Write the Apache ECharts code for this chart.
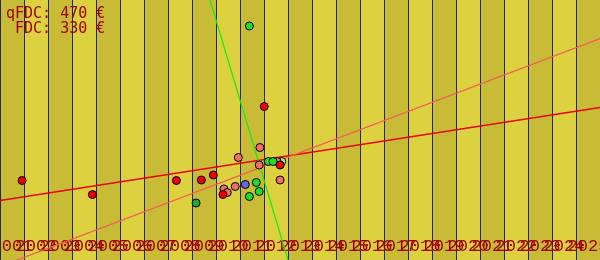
<!DOCTYPE html>
<html>
<head>
<meta charset="utf-8">
<script src="https://cdn.jsdelivr.net/npm/echarts@6/dist/echarts.min.js"></script>
<style>
html,body{margin:0;padding:0;background:#dcd13e;}
#c{width:600px;height:260px;}
</style>
</head>
<body>
<div id="c"></div>
<script>
// Tick labels (categories)
const years = ['2001','2002','2003','2004','2005','2006','2007','2008','2009','2010','2011','2012','2013',
               '2014','2015','2016','2017','2018','2019','2020','2021','2022','2023','2024','2025'];

// Header texts
const headerLines = ['qFDC: 470 €', ' FDC: 330 €'];

// FDC (red) points
const fdcX = [2001.42, 2004.35, 2007.85, 2008.89, 2009.39, 2009.79, 2011.51, 2012.17];
const fdcY = [159, 131, 159, 160, 170, 131, 307, 190];

// qFDC (salmon) points
const qfdcX = [2011.33, 2010.43, 2010.30, 2009.83, 2009.97, 2011.30, 2012.05, 2012.17];
const qfdcY = [225, 205, 147, 142, 135, 190, 197, 160];

// green points
const greenX = [2010.89, 2011.68, 2011.88, 2011.18, 2011.30, 2010.89];
const greenY = [468, 197, 197, 155, 137, 127];
const darkGreenX = [2008.67];
const darkGreenY = [114];
const paleGreenX = [2012.24];
const paleGreenY = [197];

// blue point
const blueX = [2010.72];
const blueY = [151];

// trend lines (start/end)
const fdcTrendX = [2000.5, 2025.5];
const fdcTrendY = [119, 305];
const qfdcTrendX = [2000.5, 2025.5];
const qfdcTrendY = [-13, 443];
const greenTrendX = [2009.25, 2012.5];
const greenTrendY = [520, 0];

const zip = (a, b) => a.map((v, i) => [v, b[i]]);

const chart = echarts.init(document.getElementById('c'), null, {renderer: 'canvas'});

const pointSeries = (name, xs, ys, color, z) => ({
  name, type: 'scatter', xAxisIndex: 1, yAxisIndex: 0,
  data: zip(xs, ys), symbolSize: 8, z: z || 5,
  itemStyle: {color: color, borderColor: '#000', borderWidth: 1, opacity: 1},
  emphasis: {disabled: true}
});
const lineSeries = (name, xs, ys, color, w) => ({
  name, type: 'line', xAxisIndex: 1, yAxisIndex: 0,
  data: zip(xs, ys), showSymbol: false, symbol: 'none', clip: true, z: 3,
  lineStyle: {color: color, width: w}, silent: true, animation: false
});

chart.setOption({
  animation: false,
  backgroundColor: '#dcd13e',
  title: {
    text: headerLines.join('\n'),
    left: 6, top: 7, padding: 0,
    textStyle: {fontFamily: 'DejaVu Sans Mono', fontSize: 15, fontWeight: 'normal', color: '#a00000', lineHeight: 15}
  },
  grid: {left: 0, right: 0, top: 0, bottom: 0, containLabel: false, outerBoundsMode: 'none',
         show: true, borderColor: '#262640', borderWidth: 2, backgroundColor: 'transparent'},
  xAxis: [
    {
      type: 'category', data: years, boundaryGap: true, position: 'bottom',
      axisLine: {show: true, lineStyle: {color: '#262640', width: 1}},
      axisTick: {show: false},
      splitLine: {show: true, interval: 0, lineStyle: {color: '#262640', width: 1}},
      splitArea: {show: true, interval: 0, areaStyle: {color: ['#c8bc37', '#dcd13e']}},
      axisLabel: {show: true, interval: 0, inside: true, margin: 5, hideOverlap: false,
                  fontFamily: 'Liberation Mono', fontSize: 17, color: '#a00000'}
    },
    {type: 'value', min: 2000.5, max: 2025.5, show: false, splitLine: {show: false}}
  ],
  yAxis: [{type: 'value', min: 0, max: 520, show: false, splitLine: {show: false}}],
  series: [
    lineSeries('fdcTrend', fdcTrendX, fdcTrendY, '#ee0000', 1.5),
    lineSeries('qfdcTrend', qfdcTrendX, qfdcTrendY, '#f55a5a', 1.2),
    lineSeries('greenTrend', greenTrendX, greenTrendY, '#11ee11', 1.2),
    pointSeries('paleGreen', paleGreenX, paleGreenY, '#a8e890', 5),
    pointSeries('qfdc', qfdcX, qfdcY, '#f07068', 6),
    pointSeries('blue', blueX, blueY, '#6666ee', 6),
    pointSeries('darkGreen', darkGreenX, darkGreenY, '#22aa22', 7),
    pointSeries('green', greenX, greenY, '#22dd22', 7),
    pointSeries('fdc', fdcX, fdcY, '#ee0000', 8)
  ]
});
</script>
</body>
</html>
